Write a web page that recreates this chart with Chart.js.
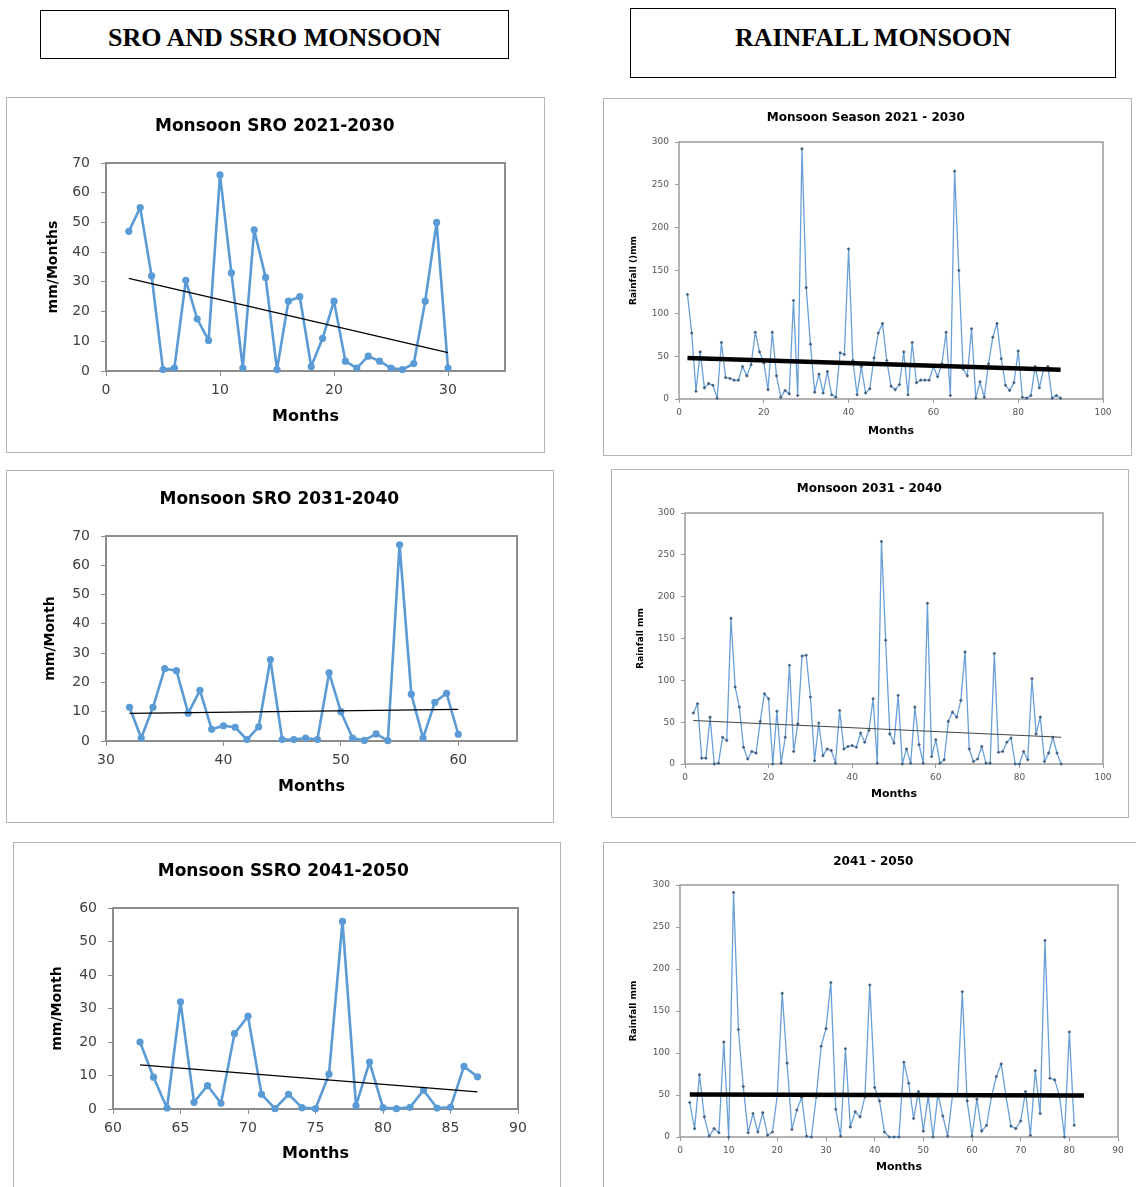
<!DOCTYPE html>
<html>
<head>
<meta charset="utf-8">
<title>Monsoon SRO / SSRO and rainfall</title>
<script src="https://cdn.jsdelivr.net/npm/chart.js@4/dist/chart.umd.min.js"></script>
<style>
  html, body { margin: 0; padding: 0; background: #fff; }
  body { width: 1136px; height: 1187px; position: relative; overflow: hidden; }
  .head {
    position: absolute; box-sizing: border-box; border: 1.5px solid #000;
    font-family: "Liberation Serif", "Times New Roman", serif; font-weight: bold;
    font-size: 26px; text-align: center; color: #000;
  }
  .panel { position: absolute; box-sizing: border-box; border: 1px solid #b5b5b5; }
  canvas { position: absolute; }
  .soft { filter: blur(0.5px); }
</style>
</head>
<body>
<div class="head" style="left:40px; top:10px; width:469px; height:49px; line-height:53px;">SRO AND SSRO MONSOON</div>
<div class="head" style="left:630px; top:8px; width:486px; height:70px; line-height:57px;">RAINFALL MONSOON</div>

<script>
// ---- surface runoff, mm/month ----
const sro1FirstMonth = 2;
const sro1Values = [47, 55, 32, 0.5, 1, 30.5, 17.5, 10.3, 66, 33, 1, 47.5, 31.5, 0.5, 23.5,
  25, 1.5, 11, 23.5, 3.3, 1, 5, 3.3, 1, 0.5, 2.5, 23.5, 50, 1];
const sro1TrendMonths = [2, 30];
const sro1Trend = [31.2, 6.2];

const sro2FirstMonth = 32;
const sro2Values = [11.5, 1, 11.5, 24.7, 24, 9.5, 17.3, 4, 5.2, 4.7, 0.5, 4.8, 27.8, 0.5, 0.5,
  1, 0.5, 23.3, 10, 1, 0.2, 2.4, 0.1, 67, 16, 1, 13.2, 16.3, 2.3];
const sro2TrendMonths = [32, 60];
const sro2Trend = [9.4, 10.8];

const ssro3FirstMonth = 62;
const ssro3Values = [20, 9.5, 0.3, 32, 2, 7, 1.7, 22.5, 27.7, 4.4, 0.1, 4.4, 0.4, 0.1, 10.4,
  56, 1, 14, 0.4, 0.1, 0.5, 5.6, 0.3, 0.5, 12.7, 9.6];
const ssro3TrendMonths = [62, 87];
const ssro3Trend = [13.2, 5.1];

// ---- monsoon rainfall, mm ----
const rain1FirstMonth = 2;
const rain1Values = [122, 77, 9, 55, 13, 18, 16, 1, 66, 25, 24, 22, 22, 38, 27, 40, 78, 55, 42, 11,
  78, 27, 2, 10, 6, 115, 4, 292, 130, 64, 8, 29, 7, 32, 5, 2, 54, 52, 175, 45,
  5, 38, 7, 12, 48, 77, 88, 45, 15, 11, 17, 55, 5, 66, 19, 22, 22, 22, 38, 26,
  41, 78, 4, 266, 150, 35, 27, 82, 1, 20, 2, 41, 72, 88, 47, 16, 10, 19, 56, 2,
  1, 4, 38, 13, 35, 38, 1, 4, 1];
const rain1TrendMonths = [2, 90];
const rain1Trend = [48, 34];

const rain2FirstMonth = 2;
const rain2Values = [61, 72, 7, 7, 56, 0, 1, 32, 28, 174, 92, 68, 20, 6, 15, 13, 51, 84, 78, 0,
  63, 1, 32, 118, 15, 48, 129, 130, 80, 4, 49, 10, 18, 16, 1, 64, 18, 21, 22, 20,
  37, 26, 40, 78, 1, 266, 148, 36, 25, 82, 0, 18, 1, 68, 23, 1, 192, 9, 29, 1,
  5, 51, 62, 56, 76, 134, 18, 3, 6, 21, 1, 1, 132, 14, 15, 26, 31, 0, 0, 15,
  5, 102, 36, 56, 3, 13, 32, 13, 0];
const rain2TrendMonths = [2, 90];
const rain2Trend = [52, 32];

const rain3FirstMonth = 2;
const rain3Values = [41, 10, 74, 24, 1, 10, 5, 113, 0, 291, 128, 60, 5, 28, 6, 29, 2, 6, 50, 171,
  88, 9, 32, 47, 1, 0, 48, 108, 129, 184, 33, 1, 105, 12, 30, 24, 48, 181, 59, 43,
  6, 0, 0, 0, 89, 64, 22, 54, 7, 49, 0, 51, 25, 1, 50, 50, 173, 43, 1, 45,
  7, 14, 48, 72, 87, 48, 13, 10, 19, 54, 2, 79, 28, 234, 70, 68, 48, 0, 125, 14];
const rain3TrendMonths = [2, 83];
const rain3Trend = [50.5, 49.5];

// ---- axis ticks ----
const sroYTicks = [0, 10, 20, 30, 40, 50, 60, 70];
const ssroYTicks = [0, 10, 20, 30, 40, 50, 60];
const sro1XTicks = [0, 10, 20, 30];
const sro2XTicks = [30, 40, 50, 60];
const ssro3XTicks = [60, 65, 70, 75, 80, 85, 90];
const rainYTicks = [0, 50, 100, 150, 200, 250, 300];
const rainXTicks = [0, 20, 40, 60, 80, 100];
const rain3XTicks = [0, 10, 20, 30, 40, 50, 60, 70, 80, 90];

// grey frame round the plot area
const plotFrame = {
  id: 'plotFrame',
  beforeDatasetsDraw(chart, args, opts) {
    const a = chart.chartArea, ctx = chart.ctx;
    ctx.save();
    ctx.strokeStyle = opts.color;
    ctx.lineWidth = opts.width;
    ctx.strokeRect(a.left, a.top, a.right - a.left, a.bottom - a.top);
    ctx.restore();
  }
};

const runoffStyle = {
  family: '"DejaVu Sans", Verdana, sans-serif',
  titleSize: 17, yTitleSize: 14, xTitleSize: 16, tickSize: 14, tickColor: '#404040',
  tickLen: 5, yTickPad: 11, xTickPad: 6,
  lineColor: '#5b9bd5', lineWidth: 2.6, pointRadius: 3.6, pointStyle: 'circle', pointColor: '#5b9bd5',
  frameColor: '#8c8c8c', frameWidth: 2
};
const rainStyle = {
  family: '"DejaVu Sans", Verdana, sans-serif',
  titleSize: 12, yTitleSize: 9, xTitleSize: 11, tickSize: 9, tickColor: '#555',
  tickLen: 4, yTickPad: 6, xTickPad: 4,
  lineColor: '#6aa0d8', lineWidth: 1.3, pointRadius: 1.8, pointStyle: 'rectRot', pointColor: '#46627f',
  frameColor: '#9a9a9a', frameWidth: 1.5
};

function buildChart(c) {
  const st = c.style;
  const box = c.panel;
  const w = box.r - box.l, h = box.b - box.t;

  const frame = document.createElement('div');
  frame.className = 'panel' + (c.soft ? ' soft' : '');
  Object.assign(frame.style, { left: box.l + 'px', top: box.t + 'px', width: w + 'px', height: h + 'px' });
  document.body.appendChild(frame);

  const canvas = document.createElement('canvas');
  canvas.width = w;
  canvas.height = h;
  canvas.style.left = box.l + 'px';
  canvas.style.top = box.t + 'px';
  if (c.soft) canvas.classList.add('soft');
  document.body.appendChild(canvas);

  // work out paddings so the plot area lands where it should
  const tLH = st.titleSize * 1.2, yLH = st.yTitleSize * 1.2, xLH = st.xTitleSize * 1.2;
  const plotT = c.plot.t - box.t, plotR = c.plot.r - box.l, plotB = c.plot.b - box.t;
  const plotL = c.plot.l - box.l;
  const titleC = c.titleY - box.t;
  const padLeft = c.yTitleX - box.l - yLH / 2;
  const xBoxBottom = c.xTitleY - box.t + xLH / 2;

  const grid = { drawOnChartArea: false, drawTicks: true, tickLength: st.tickLen, color: st.frameColor, lineWidth: 1 };
  const tickFont = { family: st.family, size: st.tickSize };

  new Chart(canvas, {
    type: 'line',
    data: {
      datasets: [
        {
          data: c.trendMonths.map((m, i) => ({ x: m, y: c.trend[i] })),
          borderColor: c.trendColor, borderWidth: c.trendWidth, pointRadius: 0, clip: false
        },
        {
          data: c.values.map((v, i) => ({ x: c.firstMonth + i, y: v })),
          borderColor: st.lineColor, borderWidth: st.lineWidth, borderJoinStyle: 'round',
          pointRadius: st.pointRadius, pointStyle: st.pointStyle,
          pointBackgroundColor: st.pointColor, pointBorderColor: st.pointColor,
          pointBorderWidth: 0, tension: 0, clip: false
        }
      ]
    },
    options: {
      responsive: false,
      animation: false,
      events: [],
      layout: {
        autoPadding: false,
        padding: { left: padLeft, top: 0, right: w - plotR, bottom: h - xBoxBottom }
      },
      plugins: {
        legend: { display: false },
        tooltip: { enabled: false },
        title: {
          display: true, text: c.title, color: '#000',
          font: { family: st.family, size: st.titleSize, weight: 'bold', lineHeight: 1.2 },
          padding: { top: titleC - tLH / 2, bottom: plotT - titleC - tLH / 2 }
        },
        plotFrame: { color: st.frameColor, width: st.frameWidth }
      },
      scales: {
        x: {
          type: 'linear', min: c.xMin, max: c.xMax,
          afterBuildTicks: s => { s.ticks = c.xTicks.map(v => ({ value: v })); },
          afterFit: s => { s.height = xBoxBottom - plotB; },
          grid: grid, border: { display: false },
          ticks: { font: tickFont, color: st.tickColor, padding: st.xTickPad, maxRotation: 0, autoSkip: false },
          title: {
            display: true, text: 'Months', color: '#000', padding: 0,
            font: { family: st.family, size: st.xTitleSize, weight: 'bold', lineHeight: 1.2 }
          }
        },
        y: {
          type: 'linear', min: c.yMin, max: c.yMax,
          afterBuildTicks: s => { s.ticks = c.yTicks.map(v => ({ value: v })); },
          afterFit: s => { s.width = plotL - padLeft; },
          grid: grid, border: { display: false },
          ticks: { font: tickFont, color: st.tickColor, padding: st.yTickPad, autoSkip: false },
          title: {
            display: true, text: c.yTitle, color: '#000', padding: 0,
            font: { family: st.family, size: st.yTitleSize, weight: 'bold', lineHeight: 1.2 }
          }
        }
      }
    },
    plugins: [plotFrame]
  });
}

buildChart({
  title: 'Monsoon SRO 2021-2030', yTitle: 'mm/Months', style: runoffStyle,
  panel: { l: 6, t: 97, r: 545, b: 453 }, plot: { l: 106, t: 163, r: 505, b: 371 },
  titleY: 127, yTitleX: 53, xTitleY: 417,
  xMin: 0, xMax: 35, xTicks: sro1XTicks, yMin: 0, yMax: 70, yTicks: sroYTicks,
  firstMonth: sro1FirstMonth, values: sro1Values,
  trendMonths: sro1TrendMonths, trend: sro1Trend, trendColor: '#000', trendWidth: 1.2
});

buildChart({
  title: 'Monsoon SRO 2031-2040', yTitle: 'mm/Month', style: runoffStyle,
  panel: { l: 6, t: 470, r: 554, b: 823 }, plot: { l: 106, t: 536, r: 517, b: 741 },
  titleY: 500, yTitleX: 50, xTitleY: 787,
  xMin: 30, xMax: 65, xTicks: sro2XTicks, yMin: 0, yMax: 70, yTicks: sroYTicks,
  firstMonth: sro2FirstMonth, values: sro2Values,
  trendMonths: sro2TrendMonths, trend: sro2Trend, trendColor: '#000', trendWidth: 1.2
});

buildChart({
  title: 'Monsoon SSRO 2041-2050', yTitle: 'mm/Month', style: runoffStyle,
  panel: { l: 13, t: 842, r: 561, b: 1200 }, plot: { l: 113, t: 908, r: 518, b: 1109 },
  titleY: 872, yTitleX: 57, xTitleY: 1154,
  xMin: 60, xMax: 90, xTicks: ssro3XTicks, yMin: 0, yMax: 60, yTicks: ssroYTicks,
  firstMonth: ssro3FirstMonth, values: ssro3Values,
  trendMonths: ssro3TrendMonths, trend: ssro3Trend, trendColor: '#000', trendWidth: 1.2
});

buildChart({
  title: 'Monsoon Season 2021 - 2030', yTitle: 'Rainfall ()mm', style: rainStyle, soft: true,
  panel: { l: 603, t: 98, r: 1132, b: 456 }, plot: { l: 679, t: 142, r: 1103, b: 399 },
  titleY: 118, yTitleX: 634, xTitleY: 431,
  xMin: 0, xMax: 100, xTicks: rainXTicks, yMin: 0, yMax: 300, yTicks: rainYTicks,
  firstMonth: rain1FirstMonth, values: rain1Values,
  trendMonths: rain1TrendMonths, trend: rain1Trend, trendColor: '#000', trendWidth: 4.5
});

buildChart({
  title: 'Monsoon 2031 - 2040', yTitle: 'Rainfall mm', style: rainStyle, soft: true,
  panel: { l: 611, t: 469, r: 1129, b: 818 }, plot: { l: 685, t: 513, r: 1103, b: 764 },
  titleY: 489, yTitleX: 641, xTitleY: 794,
  xMin: 0, xMax: 100, xTicks: rainXTicks, yMin: 0, yMax: 300, yTicks: rainYTicks,
  firstMonth: rain2FirstMonth, values: rain2Values,
  trendMonths: rain2TrendMonths, trend: rain2Trend, trendColor: '#444', trendWidth: 1.2
});

buildChart({
  title: '2041 - 2050', yTitle: 'Rainfall mm', style: rainStyle, soft: true,
  panel: { l: 603, t: 842, r: 1145, b: 1200 }, plot: { l: 680, t: 885, r: 1118, b: 1137 },
  titleY: 862, yTitleX: 634, xTitleY: 1167,
  xMin: 0, xMax: 90, xTicks: rain3XTicks, yMin: 0, yMax: 300, yTicks: rainYTicks,
  firstMonth: rain3FirstMonth, values: rain3Values,
  trendMonths: rain3TrendMonths, trend: rain3Trend, trendColor: '#000', trendWidth: 4.5
});
</script>
</body>
</html>
